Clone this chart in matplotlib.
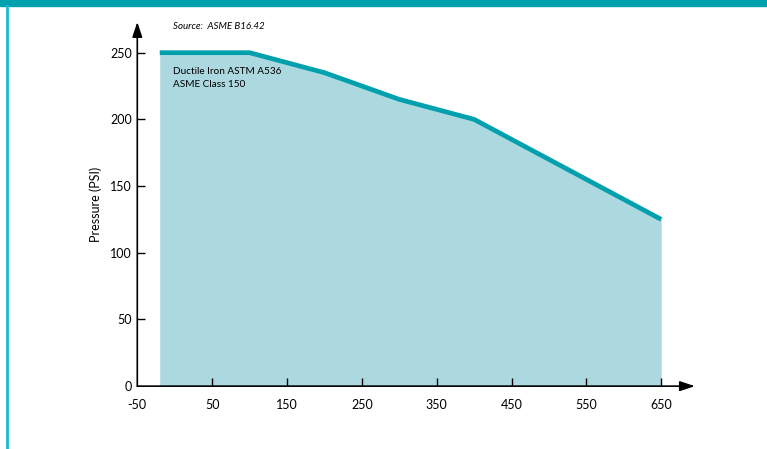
import numpy as np
import matplotlib.pyplot as plt

temp_f = [-20, 100, 200, 300, 400, 500, 600, 650]
pressure_psi = [250, 250, 235, 215, 200, 170, 140, 125]
xticks = [-50, 50, 150, 250, 350, 450, 550, 650]
yticks = [0, 50, 100, 150, 200, 250]

teal = '#00a0ae'
fill = '#acd9df'

plt.rcParams['font.family'] = ['Lato', 'DejaVu Sans']
plt.rcParams['axes.unicode_minus'] = False

fig = plt.figure(figsize=(7.67, 4.49), dpi=100)
ax = fig.add_axes([0.179, 0.140, 0.727, 0.811])

ax.fill_between(temp_f, pressure_psi, 0, color=fill, lw=0, zorder=1)
ax.plot(temp_f, pressure_psi, color=teal, lw=3.4, solid_capstyle='butt', zorder=3)

ax.set_xlim(-50, 695)
ax.set_ylim(0, 273)
for s in ax.spines.values():
    s.set_visible(False)

# axes with arrow heads
ax.annotate('', xy=(695, 0), xytext=(-50, 0),
            arrowprops=dict(arrowstyle='-|>,head_length=0.9,head_width=0.3', color='black', lw=1.2,
                            shrinkA=0, shrinkB=0), annotation_clip=False, zorder=4)
ax.annotate('', xy=(-50, 273), xytext=(-50, 0),
            arrowprops=dict(arrowstyle='-|>,head_length=0.9,head_width=0.3', color='black', lw=1.2,
                            shrinkA=0, shrinkB=0), annotation_clip=False, zorder=4)

ax.set_xticks(xticks)
ax.set_yticks(yticks)
ax.tick_params(axis='x', direction='in', length=6, width=1, pad=9, labelsize=9)
ax.tick_params(axis='y', direction='in', length=6, width=1, pad=4, labelsize=9)
ax.xaxis.get_major_ticks()[0].tick1line.set_visible(False)
ax.yaxis.get_major_ticks()[0].tick1line.set_visible(False)

ax.set_ylabel('Pressure (PSI)', fontsize=9, labelpad=6)

ax.text(-2, 269.5, 'Source:  ASME B16.42', fontsize=7, style='italic', va='center')
ax.text(-2, 239.5, 'Ductile Iron ASTM A536\nASME Class 150', fontsize=7.2, va='top', linespacing=1.55)

# decorative frame: top band and left rule
fig.patches.append(plt.Rectangle((0, 0.986), 1, 0.014, transform=fig.transFigure, color=teal))
fig.lines.append(plt.Line2D([0.009, 0.009], [0, 0.986], transform=fig.transFigure, color='#1db9cf', lw=2))

plt.savefig('out.png')
